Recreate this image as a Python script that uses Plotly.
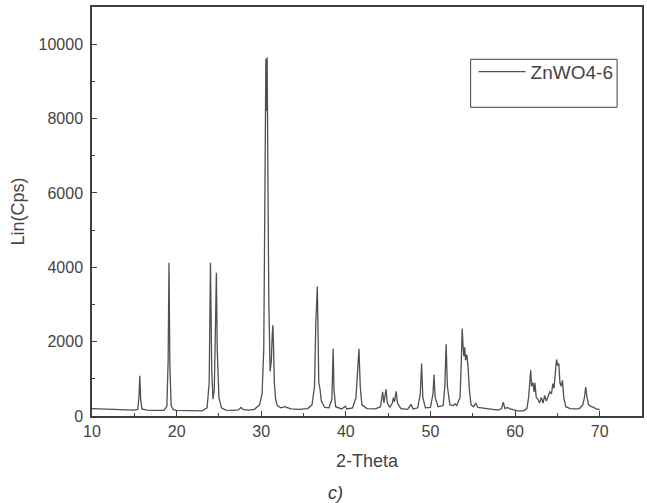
import plotly.graph_objects as go

# 2-Theta positions (degrees) and intensities (Lin Cps)
two_theta = [
    10.0, 10.5, 11.0, 12.0, 13.0, 14.0, 15.0, 15.4, 15.55, 15.65, 15.75, 15.9,
    16.5, 17.5, 18.5, 18.85, 19.0, 19.1, 19.2, 19.35, 19.6, 20.0, 21.0, 22.0,
    23.0, 23.6, 23.85, 24.0, 24.1, 24.15, 24.3, 24.45, 24.6, 24.7, 24.8, 25.0,
    25.3, 25.8, 26.5, 27.3, 27.6, 27.9, 28.5, 29.2, 29.8, 30.1, 30.3, 30.45,
    30.55, 30.62, 30.7, 30.8, 30.9, 31.05, 31.2, 31.3, 31.38, 31.45, 31.55,
    31.7, 31.9, 32.3, 32.8, 33.0, 33.5, 34.5, 35.5, 36.0, 36.3, 36.45, 36.52,
    36.58, 36.63, 36.72, 36.8, 36.95, 37.1, 37.5, 38.0, 38.35, 38.5, 38.6,
    38.8, 39.5, 39.95, 40.1, 40.8, 41.2, 41.4, 41.45, 41.55, 41.7, 41.9, 42.5,
    43.5, 44.1, 44.35, 44.5, 44.75, 44.9, 45.2, 45.5, 45.62, 45.75, 45.95,
    46.1, 46.5, 47.3, 47.7, 47.95, 48.5, 48.8, 48.95, 49.1, 49.4, 50.0, 50.3,
    50.42, 50.55, 50.9, 51.5, 51.7, 51.85, 52.0, 52.3, 52.7, 52.9, 53.1, 53.3,
    53.5, 53.65, 53.75, 53.85, 53.95, 54.05, 54.15, 54.3, 54.45, 54.6, 54.8,
    55.1, 55.35, 55.6, 56.0, 56.5, 57.0, 57.5, 58.0, 58.4, 58.6, 58.8, 59.1,
    59.4, 59.8, 60.3, 61.0, 61.4, 61.6, 61.85, 61.95, 62.1, 62.25, 62.35, 62.5,
    62.7, 62.9, 63.1, 63.3, 63.5, 63.7, 63.9, 64.1, 64.3, 64.47, 64.6, 64.75,
    64.9, 65.05, 65.17, 65.3, 65.45, 65.6, 65.75, 66.0, 66.5, 67.0, 67.6, 68.0,
    68.2, 68.35, 68.5, 68.7, 69.0, 69.3, 69.6, 70.0,
]
intensity = [
    200, 195, 190, 185, 175, 165, 160, 175, 500, 1080, 450, 190,
    160, 150, 150, 260, 1500, 4120, 1400, 280, 170, 150, 140, 135,
    140, 220, 900, 4120, 2000, 1200, 450, 700, 2500, 3850, 1800, 500,
    220, 160, 150, 165, 230, 170, 160, 180, 300, 600, 1800, 6000,
    9600, 8200, 9650, 6000, 3000, 1200, 1500, 2200, 2440, 1900, 900,
    450, 280, 220, 250, 230, 190, 180, 200, 300, 800, 2500, 3100,
    3000, 3480, 2200, 900, 720, 400, 230, 220, 450, 1810, 700,
    250, 190, 260, 190, 220, 500, 1360, 1300, 1810, 800, 300, 200,
    190, 250, 650, 350, 720, 350, 230, 350, 495, 380, 665,
    350, 200, 180, 315, 190, 220, 600, 1410, 500, 220, 230, 600,
    1115, 500, 250, 280, 800, 1930, 800, 300, 280, 330, 280, 380,
    500, 1500, 2350, 1900, 1600, 1850, 1500, 1650, 1300, 700, 300,
    250, 350, 230, 220, 190, 180, 170, 160, 200, 370, 200, 230,
    190, 170, 140, 140, 200, 500, 1230, 800, 900, 650, 890, 500,
    450, 350, 500, 350, 550, 400, 550, 650, 600, 870, 750, 1100,
    1520, 1350, 1410, 900, 800, 960, 500, 250, 200, 190, 200, 300,
    500, 780, 500, 300, 250, 230, 190, 170,
]

series_name = "ZnWO4-6"
x_title = "2-Theta"
y_title = "Lin(Cps)"
x_ticks = [10, 20, 30, 40, 50, 60, 70]
y_ticks = [0, 2000, 4000, 6000, 8000, 10000]
caption = "c)"

AX = "#3f3f3f"
FONT = "Liberation Sans, Arial, sans-serif"

# plot area in pixels (for placing paper-referenced items)
PL, PR, PT, PB = 92, 644, 6.7, 415.7
def px_x(p): return (p - PL) / (PR - PL)
def px_y(p): return 1 - (p - PT) / (PB - PT)

fig = go.Figure()
fig.add_trace(go.Scatter(
    x=two_theta, y=intensity, mode="lines", name=series_name,
    line=dict(color="#505050", width=1.3),
))

fig.update_layout(
    width=647, height=503,
    margin=dict(l=92, r=3, t=7, b=87),
    paper_bgcolor="white", plot_bgcolor="white",
    font=dict(family=FONT, color="#444444", size=15),
    showlegend=True,
    legend=dict(
        x=px_x(475), y=px_y(52.5), xanchor="left", yanchor="top",
        borderwidth=0, bgcolor="rgba(0,0,0,0)",
        font=dict(size=19, color="#444444"),
        itemwidth=47,
    ),
)
# legend frame
fig.add_shape(
    type="rect", xref="paper", yref="paper",
    x0=px_x(472), x1=px_x(619), y0=px_y(107), y1=px_y(59),
    line=dict(color=AX, width=1), fillcolor="rgba(0,0,0,0)", layer="above",
)
fig.update_xaxes(
    range=[10, 75], tickvals=x_ticks, ticks="inside", ticklen=5,
    tickcolor=AX, showline=True, linecolor=AX, linewidth=1.5, mirror=True,
    showgrid=False, zeroline=False,
    minor=dict(dtick=5, ticks="inside", ticklen=3, tickcolor=AX),
    tickfont=dict(size=16),
    title=dict(text=x_title, font=dict(size=18), standoff=15),
)
fig.update_yaxes(
    range=[0, 11000], tickvals=y_ticks, ticktext=[str(v) for v in y_ticks],
    ticks="inside", ticklen=5, ticklabelstandoff=4,
    tickcolor=AX, showline=True, linecolor=AX, linewidth=1.5, mirror=True,
    showgrid=False, zeroline=False,
    minor=dict(dtick=1000, ticks="inside", ticklen=3, tickcolor=AX),
    tickfont=dict(size=16),
    title=dict(text=y_title, font=dict(size=18), standoff=9),
)
fig.add_annotation(
    text="<i>" + caption + "</i>", xref="paper", yref="paper",
    x=px_x(336.5), y=px_y(493), xanchor="center", yanchor="middle",
    showarrow=False, font=dict(size=18, color="#333333"),
)

fig.write_html(
    "out.html",
    config={"displayModeBar": False},
    post_script="document.body.style.margin='0';",
)
